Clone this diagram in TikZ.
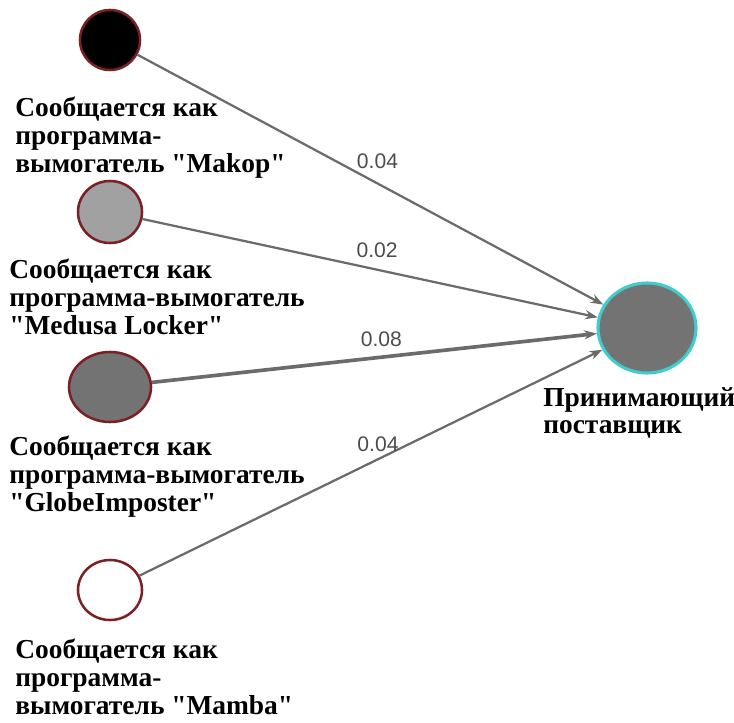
\documentclass[tikz,border=0pt]{standalone}
\usepackage{fontspec}
\setmainfont{Liberation Serif}
\newfontfamily\weightfont{Liberation Sans}
\usetikzlibrary{shapes.geometric,arrows.meta}

\begin{document}
\begin{tikzpicture}[x=0.025cm,y=-0.025cm]
        % Define colors for nodes and edges
        \definecolor{ringred}{rgb}{0.48, 0.13, 0.15} % Dark red border
        \definecolor{ringcyan}{rgb}{0.25, 0.80, 0.80} % Cyan border
        \definecolor{edgegray}{rgb}{0.42, 0.42, 0.42} % Edge color
        \definecolor{lightfill}{rgb}{0.63, 0.63, 0.63} % Light gray fill
        \definecolor{darkfill}{rgb}{0.45, 0.45, 0.45} % Dark gray fill

        \tikzset{
            source/.style={ellipse, draw=ringred, line width=1.8pt, inner sep=0pt},
            link/.style={draw=edgegray, line width=1.6pt, -{Stealth[length=9pt,width=6.5pt]}},
            weight/.style={font=\weightfont\fontsize{15}{15}\selectfont, text=black!70, inner sep=0pt, above=7pt, xshift=5pt},
            caption/.style={font=\bfseries\fontsize{19.5}{19.6}\selectfont, align=left, anchor=north west, inner sep=0pt}
        }

        \useasboundingbox (0,0) rectangle (734,722);

        % Draw source nodes
        \node[source, fill=black, minimum width=1.5cm, minimum height=1.5cm] (makop) at (110,40) {}; % Top
        \node[source, fill=lightfill, minimum width=1.6cm, minimum height=1.55cm] (medusa) at (110,212) {};
        \node[source, fill=darkfill, minimum width=2.05cm, minimum height=1.75cm] (globe) at (110,387) {};
        \node[source, fill=white, minimum width=1.6cm, minimum height=1.5cm] (mamba) at (110,590) {}; % Bottom

        % Draw receiving node
        \node[ellipse, fill=darkfill, draw=ringcyan, line width=2.2pt, minimum width=2.45cm, minimum height=2.25cm] (vendor) at (647,328) {};

        % Draw weighted edges
        \draw[link] (makop) -- node[weight] {0.04} (vendor);
        \draw[link] (medusa) -- node[weight] {0.02} (vendor);
        \draw[link, line width=2.6pt] (globe) -- node[weight] {0.08} (vendor);
        \draw[link] (mamba) -- node[weight] {0.04} (vendor);

        % Captions under the nodes
        \node[caption] (makoptext) at (15,97) {Сообщается как\\программа-\\вымогатель \textquotedbl Makop\textquotedbl};
        \node[caption] (medusatext) at (9,259) {Сообщается как\\программа-вымогатель\\\textquotedbl Medusa Locker\textquotedbl};
        \node[caption] (globetext) at (9,436) {Сообщается как\\программа-вымогатель\\\textquotedbl GlobeImposter\textquotedbl};
        \node[caption] (mambatext) at (15,639) {Сообщается как\\программа-\\вымогатель \textquotedbl Mamba\textquotedbl};
        \node[caption] (vendortext) at (543,387) {Принимающий\\поставщик};
\end{tikzpicture}
\end{document}
